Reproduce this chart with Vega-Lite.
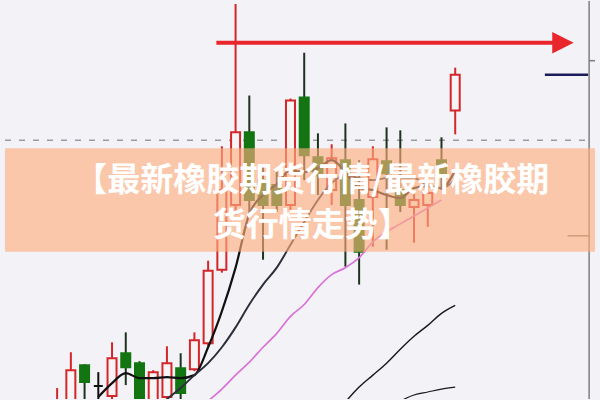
{
  "$schema": "https://vega.github.io/schema/vega-lite/v6.json",
  "width": 600,
  "height": 400,
  "autosize": {"type": "fit", "contains": "padding"},
  "padding": 0,
  "background": "#f3f2f7",
  "config": {"view": {"stroke": null}},
  "datasets": {
    "candles": [
      {"d": 0, "open": -15, "close": -2, "high": 11, "low": -18},
      {"d": 1, "open": -12, "close": 29, "high": 47, "low": -16},
      {"d": 2, "open": 34, "close": 17, "high": 35, "low": -2},
      {"d": 3, "open": 13, "close": 13, "high": 27, "low": -2},
      {"d": 4, "open": 3, "close": 41, "high": 57, "low": 0},
      {"d": 5, "open": 46, "close": 32, "high": 67, "low": 14},
      {"d": 6, "open": 36, "close": -5, "high": 38, "low": -10},
      {"d": 7, "open": -10, "close": 27, "high": 29, "low": -14},
      {"d": 8, "open": 2, "close": 36, "high": 53, "low": -5},
      {"d": 9, "open": 31, "close": 6, "high": 46, "low": 0},
      {"d": 10, "open": 30, "close": 59, "high": 67, "low": 28},
      {"d": 11, "open": 56, "close": 129, "high": 139, "low": 53},
      {"d": 12, "open": 130, "close": 210, "high": 254, "low": 127},
      {"d": 13, "open": 195, "close": 268, "high": 397, "low": 185},
      {"d": 14, "open": 268, "close": 200, "high": 305, "low": 185},
      {"d": 15, "open": 220, "close": 195, "high": 235, "low": 140},
      {"d": 16, "open": 215, "close": 195, "high": 230, "low": 188},
      {"d": 17, "open": 195, "close": 300, "high": 302, "low": 190},
      {"d": 18, "open": 303, "close": 245, "high": 348, "low": 220},
      {"d": 19, "open": 243, "close": 225, "high": 267, "low": 205},
      {"d": 20, "open": 210, "close": 242, "high": 256, "low": 195},
      {"d": 21, "open": 240, "close": 195, "high": 277, "low": 133},
      {"d": 22, "open": 200, "close": 148, "high": 240, "low": 115},
      {"d": 23, "open": 203, "close": 241, "high": 254, "low": 153},
      {"d": 24, "open": 239, "close": 227, "high": 273, "low": 150},
      {"d": 25, "open": 210, "close": 195, "high": 270, "low": 188},
      {"d": 26, "open": 193, "close": 200, "high": 207, "low": 157},
      {"d": 27, "open": 195, "close": 207, "high": 212, "low": 173},
      {"d": 28, "open": 240, "close": 225, "high": 263, "low": 210},
      {"d": 29, "open": 290, "close": 326, "high": 333, "low": 266}
    ],
    "ma": [
      {"series": "MA5", "d": 3, "v": 2}, {"series": "MA5", "d": 4, "v": 16}, {"series": "MA5", "d": 5, "v": 26},
      {"series": "MA5", "d": 6, "v": 21}, {"series": "MA5", "d": 7, "v": 21}, {"series": "MA5", "d": 8, "v": 22},
      {"series": "MA5", "d": 9, "v": 21}, {"series": "MA5", "d": 10, "v": 24}, {"series": "MA5", "d": 11, "v": 52},
      {"series": "MA5", "d": 12, "v": 88}, {"series": "MA5", "d": 13, "v": 132}, {"series": "MA5", "d": 14, "v": 186},
      {"series": "MA5", "d": 15, "v": 205}, {"series": "MA5", "d": 16, "v": 216}, {"series": "MA5", "d": 17, "v": 230},
      {"series": "MA5", "d": 18, "v": 228}, {"series": "MA5", "d": 19, "v": 232}, {"series": "MA5", "d": 20, "v": 240},
      {"series": "MA5", "d": 21, "v": 228}, {"series": "MA5", "d": 22, "v": 212}, {"series": "MA5", "d": 23, "v": 210},
      {"series": "MA5", "d": 24, "v": 205}, {"series": "MA5", "d": 25, "v": 202}, {"series": "MA5", "d": 26, "v": 212},
      {"series": "MA5", "d": 27, "v": 214}, {"series": "MA5", "d": 28, "v": 212}, {"series": "MA5", "d": 29, "v": 230},
      {"series": "MA10", "d": 8, "v": 0}, {"series": "MA10", "d": 9, "v": 11}, {"series": "MA10", "d": 10, "v": 24},
      {"series": "MA10", "d": 11, "v": 36}, {"series": "MA10", "d": 12, "v": 52}, {"series": "MA10", "d": 13, "v": 72},
      {"series": "MA10", "d": 14, "v": 95}, {"series": "MA10", "d": 15, "v": 115}, {"series": "MA10", "d": 16, "v": 132},
      {"series": "MA10", "d": 17, "v": 155}, {"series": "MA10", "d": 18, "v": 178}, {"series": "MA10", "d": 19, "v": 200},
      {"series": "MA10", "d": 20, "v": 217}, {"series": "MA10", "d": 21, "v": 225}, {"series": "MA10", "d": 22, "v": 222},
      {"series": "MA10", "d": 23, "v": 220}, {"series": "MA10", "d": 24, "v": 222}, {"series": "MA10", "d": 25, "v": 222},
      {"series": "MA10", "d": 26, "v": 222}, {"series": "MA10", "d": 27, "v": 215}, {"series": "MA10", "d": 28, "v": 212},
      {"series": "MA10", "d": 29, "v": 220},
      {"series": "MA20", "d": 11, "v": -2}, {"series": "MA20", "d": 12, "v": 10}, {"series": "MA20", "d": 13, "v": 24},
      {"series": "MA20", "d": 14, "v": 37}, {"series": "MA20", "d": 15, "v": 52}, {"series": "MA20", "d": 16, "v": 66},
      {"series": "MA20", "d": 17, "v": 83}, {"series": "MA20", "d": 18, "v": 95}, {"series": "MA20", "d": 19, "v": 112},
      {"series": "MA20", "d": 20, "v": 125}, {"series": "MA20", "d": 21, "v": 132}, {"series": "MA20", "d": 22, "v": 142},
      {"series": "MA20", "d": 23, "v": 158}, {"series": "MA20", "d": 24, "v": 168}, {"series": "MA20", "d": 25, "v": 176},
      {"series": "MA20", "d": 26, "v": 184}, {"series": "MA20", "d": 27, "v": 192}, {"series": "MA20", "d": 28, "v": 200},
      {"series": "MA30", "d": 21, "v": -3}, {"series": "MA30", "d": 22, "v": 12}, {"series": "MA30", "d": 23, "v": 24},
      {"series": "MA30", "d": 24, "v": 36}, {"series": "MA30", "d": 25, "v": 50}, {"series": "MA30", "d": 26, "v": 63},
      {"series": "MA30", "d": 27, "v": 74}, {"series": "MA30", "d": 28, "v": 86}, {"series": "MA30", "d": 29, "v": 94},
      {"series": "MA60", "d": 25, "v": -2}, {"series": "MA60", "d": 26, "v": 4}, {"series": "MA60", "d": 27, "v": 7},
      {"series": "MA60", "d": 28, "v": 10}, {"series": "MA60", "d": 29, "v": 12}
    ],
    "refline": [{"d1": -3.797, "d2": 38.75, "p": 260}],
    "axisline": [{"d": 38.754, "p1": 0, "p2": 400}],
    "navy": [{"d1": 35.53, "d2": 38.68, "p": 326}],
    "ticks": [{"d1": 38.75, "d2": 39.183, "p": 340}, {"d1": 37.18, "d2": 38.75, "p": 164}],
    "arrow": [{"d1": 11.6, "d2": 36.2, "p": 358}],
    "arrowhead": [{"d": 36.85, "p": 358}],
    "banner": [{"d1": -3.797, "d2": 39.183, "p1": 148, "p2": 252}],
    "title": [
      {"d": 18.55, "p": 209, "text": "【最新橡胶期货行情/最新橡胶期\n货行情走势】"}
    ]
  },
  "encoding": {},
  "layer": [
    {
      "data": {"name": "refline"},
      "mark": {"type": "rule", "stroke": "#9b9ba3", "strokeWidth": 1.5, "strokeDash": [6, 8]},
      "encoding": {
        "x": {"field": "d1", "type": "quantitative", "scale": {"domain": [-3.797, 39.183], "nice": false, "zero": false}, "axis": null},
        "x2": {"field": "d2"},
        "y": {"field": "p", "type": "quantitative", "scale": {"domain": [0, 400], "nice": false, "zero": false}, "axis": null}
      }
    },
    {
      "data": {"name": "axisline"},
      "mark": {"type": "rule", "stroke": "#7d7d80", "strokeWidth": 1.5},
      "encoding": {
        "x": {"field": "d", "type": "quantitative", "axis": null},
        "y": {"field": "p1", "type": "quantitative", "axis": null},
        "y2": {"field": "p2"}
      }
    },
    {
      "data": {"name": "ticks"},
      "mark": {"type": "rule", "stroke": "#7d7d80", "strokeWidth": 1.5},
      "encoding": {
        "x": {"field": "d1", "type": "quantitative", "axis": null},
        "x2": {"field": "d2"},
        "y": {"field": "p", "type": "quantitative", "axis": null}
      }
    },
    {
      "data": {"name": "navy"},
      "mark": {"type": "rule", "stroke": "#1c1c5c", "strokeWidth": 2.5},
      "encoding": {
        "x": {"field": "d1", "type": "quantitative", "axis": null},
        "x2": {"field": "d2"},
        "y": {"field": "p", "type": "quantitative", "axis": null}
      }
    },
    {
      "data": {"name": "candles"},
      "mark": {"type": "rule", "strokeWidth": 2, "clip": true},
      "encoding": {
        "x": {"field": "d", "type": "quantitative", "axis": null},
        "y": {"field": "low", "type": "quantitative", "axis": null},
        "y2": {"field": "high"},
        "color": {
          "condition": [
            {"test": "datum.close == datum.open", "value": "#111111"},
            {"test": "datum.close > datum.open", "value": "#d3262b"}
          ],
          "value": "#1d331d"
        }
      }
    },
    {
      "data": {"name": "candles"},
      "mark": {"type": "bar", "width": 9, "strokeWidth": 2, "clip": true},
      "encoding": {
        "x": {"field": "d", "type": "quantitative", "axis": null},
        "y": {"field": "open", "type": "quantitative", "axis": null},
        "y2": {"field": "close"},
        "stroke": {
          "condition": [
            {"test": "datum.close == datum.open", "value": "#111111"},
            {"test": "datum.close > datum.open", "value": "#d3262b"}
          ],
          "value": "#127512"
        },
        "fill": {
          "condition": [
            {"test": "datum.close == datum.open", "value": "#111111"},
            {"test": "datum.close > datum.open", "value": "#f7f4f6"}
          ],
          "value": "#127512"
        }
      }
    },
    {
      "data": {"name": "ma"},
      "mark": {"type": "line", "clip": true, "interpolate": "monotone"},
      "encoding": {
        "x": {"field": "d", "type": "quantitative", "axis": null},
        "y": {"field": "v", "type": "quantitative", "axis": null},
        "detail": {"field": "series"},
        "color": {
          "field": "series", "type": "nominal", "legend": null,
          "scale": {"domain": ["MA5", "MA10", "MA20", "MA30", "MA60"], "range": ["#111111", "#2a2d3a", "#d873d8", "#1a1a1a", "#1a1a1a"]}
        },
        "strokeWidth": {
          "field": "series", "type": "nominal", "legend": null,
          "scale": {"domain": ["MA5", "MA10", "MA20", "MA30", "MA60"], "range": [2.2, 1.2, 1.8, 1.5, 1.5]}
        }
      }
    },
    {
      "data": {"name": "arrow"},
      "mark": {"type": "rule", "stroke": "#e8262b", "strokeWidth": 4},
      "encoding": {
        "x": {"field": "d1", "type": "quantitative", "axis": null},
        "x2": {"field": "d2"},
        "y": {"field": "p", "type": "quantitative", "axis": null}
      }
    },
    {
      "data": {"name": "arrowhead"},
      "mark": {"type": "point", "shape": "M-1,-1L1,0L-1,1Z", "size": 460, "filled": true, "fill": "#e8262b", "opacity": 1, "strokeWidth": 0},
      "encoding": {
        "x": {"field": "d", "type": "quantitative", "axis": null},
        "y": {"field": "p", "type": "quantitative", "axis": null}
      }
    },
    {
      "data": {"name": "banner"},
      "mark": {"type": "rect", "fill": "#ffaf7d", "opacity": 0.63},
      "encoding": {
        "x": {"field": "d1", "type": "quantitative", "axis": null},
        "x2": {"field": "d2"},
        "y": {"field": "p1", "type": "quantitative", "axis": null},
        "y2": {"field": "p2"}
      }
    },
    {
      "data": {"name": "title"},
      "mark": {"type": "text", "font": "Noto Sans CJK SC", "fontWeight": "bold", "fontSize": 33, "fill": "#ffffff", "align": "center", "baseline": "alphabetic", "lineBreak": "\n", "lineHeight": 45},
      "encoding": {
        "x": {"field": "d", "type": "quantitative", "axis": null},
        "y": {"field": "p", "type": "quantitative", "axis": null},
        "text": {"field": "text"}
      }
    }
  ]
}
